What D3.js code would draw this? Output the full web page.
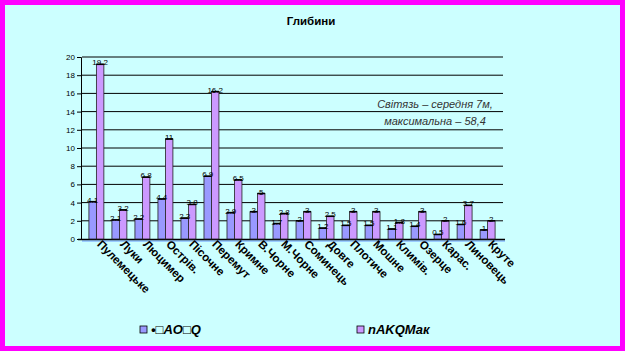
<!DOCTYPE html>
<html><head><meta charset="utf-8">
<script src="https://cdn.jsdelivr.net/npm/d3@7/dist/d3.min.js"></script>
<style>html,body{margin:0;padding:0;background:#fff;}svg{display:block;}</style>
</head><body><svg id="c" width="625" height="351"></svg>
<script>
const categories = ["Пулемецьке","Луки","Люцимер","Острів.","Пісочне","Перемут","Кримне","В.Чорне","М.Чорне","Соминець","Довге","Плотиче","Мошне","Климів.","Озерце","Карас.","Линовець","Круте"];
const seriesA = [4.1,2.1,2.2,4.4,2.3,6.9,2.9,3,1.7,2,1.2,1.5,1.5,1.1,1.4,0.5,1.6,1];
const seriesB = [19.2,3.2,6.8,11,3.8,16.2,6.5,5,2.8,3,2.5,3,3,1.8,3,2,3.7,2];
const seriesNames = ["•\u25A1AO\u25A1Q","nAKQMaк"];
const yTicks = [0,2,4,6,8,10,12,14,16,18,20];
const title = "Глибини";
const note = ["Світязь – середня 7м,","максимальна – 58,4"];

const svg = d3.select("#c");
const W = 625, H = 351;
svg.append("rect").attr("x",0).attr("y",0).attr("width",W).attr("height",H).attr("fill","#ff00ff");
svg.append("rect").attr("x",5).attr("y",5).attr("width",W-10).attr("height",H-10).attr("fill","#ccffff");

const font = "Arial, 'Liberation Sans', sans-serif";
const x0 = d3.scaleBand().domain(categories).range([85,499]).paddingInner(0.35).paddingOuter(0.17);
const x1 = d3.scaleBand().domain([0,1]).range([0,x0.bandwidth()]);
const y = d3.scaleLinear().domain([0,20]).range([239,57]);

// gridlines
svg.append("g").selectAll("line").data(yTicks.filter(d=>d>0)).join("line")
  .attr("x1",82).attr("x2",503).attr("y1",d=>y(d)).attr("y2",d=>y(d))
  .attr("stroke","#000").attr("stroke-width",1);

// annotation
svg.append("g").selectAll("text").data(note).join("text")
  .attr("x",435).attr("y",(d,i)=>108+i*17).attr("text-anchor","middle")
  .attr("font-family",font).attr("font-style","italic").attr("font-size",11)
  .attr("fill","#333").text(d=>d);

// y axis
const ya = d3.axisLeft(y).tickValues(yTicks).tickSize(4).tickPadding(2);
const gy = svg.append("g").attr("transform","translate(81,0)").call(ya);
gy.select(".domain").attr("stroke","#000");
gy.selectAll("text").attr("font-family",font).attr("font-size",8).attr("fill","#000");

// floor
svg.append("rect").attr("x",82).attr("y",239).attr("width",423).attr("height",3).attr("fill","#99ccff");
svg.append("line").attr("x1",78).attr("x2",505).attr("y1",239.5).attr("y2",239.5).attr("stroke","#000").attr("stroke-width",1.5);

// bars
const colors = ["#9999ff","#cc99ff"];
const rows = categories.map((c,i)=>({c, v:[seriesA[i],seriesB[i]]}));
const g = svg.append("g").selectAll("g").data(rows).join("g")
  .attr("transform",d=>`translate(${x0(d.c)},0)`);
g.selectAll("rect").data(d=>d.v.map((v,k)=>({v,k}))).join("rect")
  .attr("x",d=>x1(d.k)).attr("width",x1.bandwidth())
  .attr("y",d=>y(d.v)).attr("height",d=>y(0)-y(d.v))
  .attr("fill",d=>colors[d.k]).attr("stroke","#222").attr("stroke-width",0.8);
g.selectAll("line.top").data(d=>d.v.map((v,k)=>({v,k}))).join("line").attr("class","top")
  .attr("x1",d=>x1(d.k)).attr("x2",d=>x1(d.k)+x1.bandwidth())
  .attr("y1",d=>y(d.v)).attr("y2",d=>y(d.v)).attr("stroke","#000").attr("stroke-width",1.6);
g.selectAll("text").data(d=>d.v.map((v,k)=>({v,k}))).join("text")
  .attr("x",d=>x1(d.k)+x1.bandwidth()/2).attr("y",d=>y(d.v)+1)
  .attr("text-anchor","middle").attr("font-family",font).attr("font-size",8).attr("fill","#000")
  .text(d=>String(d.v));

// x labels
svg.append("g").selectAll("text").data(categories).join("text")
  .attr("transform",d=>`translate(${x0(d)+x0.bandwidth()/2},245) rotate(45)`)
  .attr("font-family",font).attr("font-weight","bold").attr("font-size",11.5)
  .attr("fill","#000").text(d=>d);

// title
svg.append("text").attr("x",311).attr("y",25).attr("text-anchor","middle")
  .attr("font-family",font).attr("font-weight","bold").attr("font-size",11.5).text(title);

// legend
const lx = [140,357];
seriesNames.forEach((n,i)=>{
  svg.append("rect").attr("x",lx[i]).attr("y",326).attr("width",7).attr("height",7)
    .attr("fill",colors[i]).attr("stroke","#000").attr("stroke-width",0.8);
  svg.append("text").attr("x",lx[i]+11).attr("y",334).attr("font-family",font)
    .attr("font-weight","bold").attr("font-style","italic").attr("font-size",13).text(n);
});
</script></body></html>
